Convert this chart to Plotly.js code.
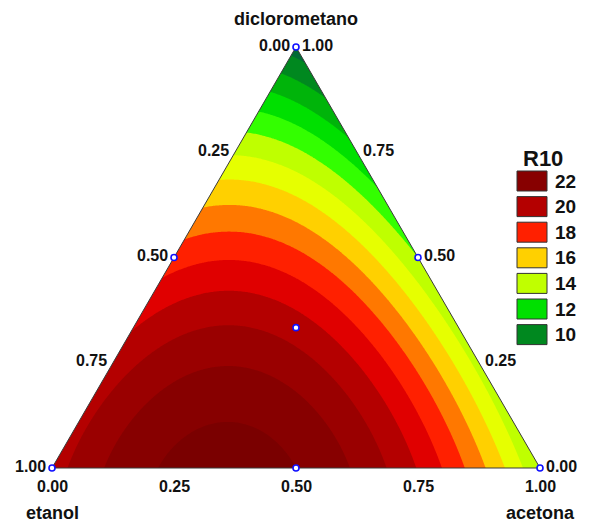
<!DOCTYPE html>
<html><head><meta charset="utf-8">
<script src="https://cdn.plot.ly/plotly-3.0.1.min.js"></script>
<style>html,body{margin:0;padding:0;background:#fff}#chart{width:603px;height:523px}</style>
</head><body><div id="chart"></div>
<script>
// ---- data ----
const componentNames = ['diclorometano', 'etanol', 'acetona'];
// mixture design points (fractions)
const dicloroFrac = [1, 0, 0, 0.5, 0.5, 0, 1/3];
const etanolFrac  = [0, 1, 0, 0.5, 0, 0.5, 1/3];
const acetonaFrac = [0, 0, 1, 0, 0.5, 0.5, 1/3];
// response R10 at the design points
const r10Values   = [9.5, 20.5, 14.0, 18.5, 14.0, 23.0, 20.5];
const tickValues = [0, 0.25, 0.5, 0.75, 1];
const tickLabels = ['0.00', '0.25', '0.50', '0.75', '1.00'];
const contourStart = 10, contourEnd = 23, contourStep = 1;
// colours of bands <10, 10-11, ..., 22-23, >23
const bandColors = ['#006b35','#00881f','#00b40a','#00e000','#33ff00','#bfff00','#e6ff00',
                    '#ffd000','#ff7800','#ff2000','#e00000','#b40000','#9a0000','#870000','#7a0000'];
const legendTitle = 'R10';
const legendLevels = [22, 20, 18, 16, 14, 12, 10];
const legendColors = ['#870000','#b40000','#ff2000','#ffd000','#c0ff00','#00e000','#00881f'];

// ---- special cubic mixture model fitted to the design points ----
function terms(a, b, c) { return [a, b, c, a*b, a*c, b*c, a*b*c]; }
function fit() {
  const n = 7;
  const A = [], y = [];
  for (let i = 0; i < r10Values.length; i++) { A.push(terms(dicloroFrac[i], etanolFrac[i], acetonaFrac[i])); y.push(r10Values[i]); }
  const M = [], v = [];
  for (let r = 0; r < n; r++) { M.push(new Array(n).fill(0)); v.push(0); }
  for (let k = 0; k < A.length; k++) for (let r = 0; r < n; r++) { v[r] += A[k][r]*y[k]; for (let s = 0; s < n; s++) M[r][s] += A[k][r]*A[k][s]; }
  for (let p = 0; p < n; p++) {
    let best = p; for (let r = p+1; r < n; r++) if (Math.abs(M[r][p]) > Math.abs(M[best][p])) best = r;
    [M[p], M[best]] = [M[best], M[p]]; [v[p], v[best]] = [v[best], v[p]];
    for (let r = 0; r < n; r++) if (r !== p) { const f = M[r][p]/M[p][p]; for (let s = p; s < n; s++) M[r][s] -= f*M[p][s]; v[r] -= f*v[p]; }
  }
  return v.map((val, i) => val / M[i][i]);
}
const coef = fit();
const H = Math.sqrt(3)/2;
function model(a, b, c) { const t = terms(a, b, c); return t.reduce((s, ti, i) => s + ti*coef[i], 0); }
// cartesian position of a composition (etanol bottom-left, acetona bottom-right, diclorometano top)
function toXY(a, b, c) { return [c + a/2, a*H]; }

const gx = [], gy = [], gz = [];
const NX = 420, NY = 370;
for (let i = 0; i <= NX; i++) gx.push(-0.02 + 1.04*i/NX);
for (let j = 0; j <= NY; j++) gy.push(-0.01 + (H + 0.02)*j/NY);
for (let j = 0; j <= NY; j++) {
  const row = []; const a = gy[j]/H;
  for (let i = 0; i <= NX; i++) { const c = gx[i] - a/2; const b = 1 - a - c; row.push(model(a, b, c)); }
  gz.push(row);
}
const nBands = bandColors.length;
const colorscale = bandColors.map((col, k) => [k/(nBands-1), col]);

const traces = [];
traces.push({type: 'contour', x: gx, y: gy, z: gz, autocontour: false,
  contours: {start: contourStart, end: contourEnd, size: contourStep, coloring: 'fill', showlines: false},
  line: {width: 0, smoothing: 1}, colorscale: colorscale, showscale: false, hoverinfo: 'skip'});
// white masks outside the simplex
const V = {top: toXY(1,0,0), left: toXY(0,1,0), right: toXY(0,0,1)};
const E = 0.3;
const masks = [
  [[-E,-E],[1+E,-E],[1+E,V.left[1]],[-E,V.left[1]]],
  [[-E,V.left[1]],V.left,V.top,[V.top[0],1+E],[-E,1+E]],
  [[1+E,V.right[1]],V.right,V.top,[V.top[0],1+E],[1+E,1+E]]
];
masks.forEach(m => traces.push({type: 'scatter', mode: 'lines', x: m.map(p => p[0]), y: m.map(p => p[1]),
  fill: 'toself', fillcolor: '#ffffff', line: {width: 0, color: '#ffffff'}, hoverinfo: 'skip', showlegend: false}));
// outline
traces.push({type: 'scatter', mode: 'lines', x: [V.left[0], V.right[0], V.top[0], V.left[0]], y: [V.left[1], V.right[1], V.top[1], V.left[1]],
  line: {color: '#3a3a3a', width: 1}, hoverinfo: 'skip', showlegend: false});
// design points
const pts = dicloroFrac.map((a, i) => toXY(a, etanolFrac[i], acetonaFrac[i]));
traces.push({type: 'scatter', mode: 'markers', x: pts.map(p => p[0]), y: pts.map(p => p[1]),
  marker: {symbol: 'circle', size: 6, color: '#ffffff', line: {color: '#1010ff', width: 1.6}}, hoverinfo: 'skip', showlegend: false, cliponaxis: false});

const FAM = 'Liberation Sans, Arial, sans-serif';
const tickFont = {family: FAM, size: 16, color: '#111'};
const nameFont = {family: FAM, size: 18, color: '#111'};
const ann = [];
tickValues.forEach((t, i) => {
  const L = toXY(1-t, t, 0);
  ann.push({x: L[0], y: L[1], xref: 'x', yref: 'y', text: '<b>' + tickLabels[i] + '</b>', showarrow: false, xanchor: 'right', yanchor: 'middle', xshift: -4, yshift: 2, font: tickFont});
  const R = toXY(t, 0, 1-t);
  ann.push({x: R[0], y: R[1], xref: 'x', yref: 'y', text: '<b>' + tickLabels[i] + '</b>', showarrow: false, xanchor: 'left', yanchor: 'middle', xshift: 4, yshift: 2, font: tickFont});
  const B = toXY(0, 1-t, t);
  ann.push({x: B[0], y: B[1], xref: 'x', yref: 'y', text: '<b>' + tickLabels[i] + '</b>', showarrow: false, xanchor: 'center', yanchor: 'top', yshift: -8, font: tickFont});
});
ann.push({x: V.top[0], y: V.top[1], xref: 'x', yref: 'y', text: '<b>' + componentNames[0] + '</b>', showarrow: false, xanchor: 'center', yanchor: 'bottom', yshift: 16, font: nameFont});
ann.push({x: V.left[0], y: V.left[1], xref: 'x', yref: 'y', text: '<b>' + componentNames[1] + '</b>', showarrow: false, xanchor: 'center', yanchor: 'top', yshift: -33, font: nameFont});
ann.push({x: V.right[0], y: V.right[1], xref: 'x', yref: 'y', text: '<b>' + componentNames[2] + '</b>', showarrow: false, xanchor: 'center', yanchor: 'top', yshift: -33, font: nameFont});

// legend (swatches)
const W = 603, Hh = 523;
const shapes = [];
const sw = {x0: 517, x1: 547, y0: 171, h: 20, gap: 25.6};
ann.push({x: 521/W, y: 1 - 144/Hh, xref: 'paper', yref: 'paper', text: '<b>' + legendTitle + '</b>', showarrow: false, xanchor: 'left', yanchor: 'top', font: {family: FAM, size: 22, color: '#111'}});
legendLevels.forEach((lv, k) => {
  const top = sw.y0 + k*sw.gap;
  shapes.push({type: 'rect', xref: 'paper', yref: 'paper', x0: sw.x0/W, x1: sw.x1/W, y0: 1 - (top + sw.h)/Hh, y1: 1 - top/Hh,
    fillcolor: legendColors[k], line: {color: '#333', width: 1}});
  ann.push({x: (sw.x1 + 6)/W, y: 1 - (top + sw.h/2)/Hh, xref: 'paper', yref: 'paper', text: '<b>' + lv + '</b>', showarrow: false, xanchor: 'left', yanchor: 'middle', font: {family: FAM, size: 19, color: '#111'}});
});

const xPerPx = 1/488, yPerPx = H/421;
const layout = {
  width: W, height: Hh, margin: {l: 0, r: 0, t: 0, b: 0}, paper_bgcolor: '#fff', plot_bgcolor: '#fff', showlegend: false,
  xaxis: {range: [-52*xPerPx, (W-52)*xPerPx], visible: false, fixedrange: true},
  yaxis: {range: [-(Hh-468)*yPerPx, 468*yPerPx], visible: false, fixedrange: true},
  annotations: ann, shapes: shapes
};
Plotly.newPlot('chart', traces, layout, {staticPlot: true});
</script></body></html>
